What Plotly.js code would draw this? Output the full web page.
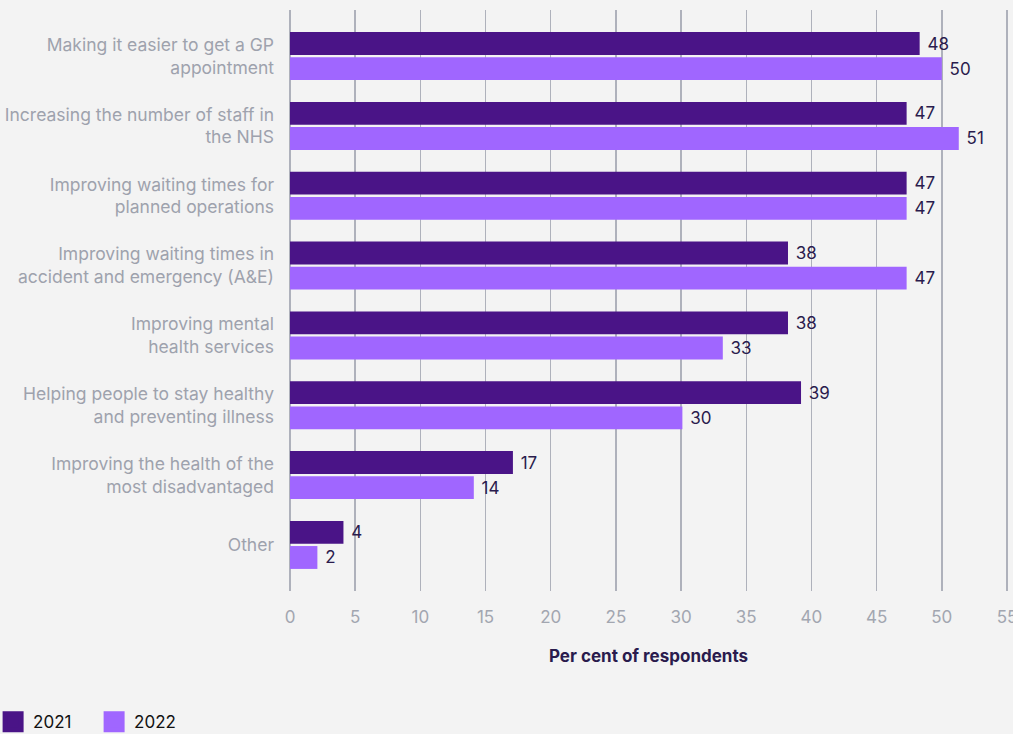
<!DOCTYPE html>
<html>
<head>
<meta charset="utf-8">
<script src="https://cdn.plot.ly/plotly-3.0.1.min.js"></script>
<style>
  html, body { margin: 0; padding: 0; background: #f3f3f3; }
  #chart { width: 1013px; height: 734px; }
</style>
</head>
<body>
<div id="chart"></div>
<script>
const categories = [
  "Making it easier to get a GP<br>appointment",
  "Increasing the number of staff in<br>the NHS",
  "Improving waiting times for<br>planned operations",
  "Improving waiting times in<br>accident and emergency (A&E)",
  "Improving mental<br>health services",
  "Helping people to stay healthy<br>and preventing illness",
  "Improving the health of the<br>most disadvantaged",
  "Other"
];
const values2021 = [48.3, 47.3, 47.3, 38.2, 38.2, 39.2, 17.1, 4.1];
const values2022 = [50.0, 51.3, 47.3, 47.3, 33.2, 30.1, 14.1, 2.1];
const labels2021 = ["48", "47", "47", "38", "38", "39", "17", "4"];
const labels2022 = ["50", "51", "47", "47", "33", "30", "14", "2"];
const xTicks = [0, 5, 10, 15, 20, 25, 30, 35, 40, 45, 50, 55];
const seriesNames = ["2021", "2022"];
const seriesColors = ["#4a1487", "#a066ff"];

const FONT = "Inter, 'Open Sans', sans-serif";

function barTrace(name, vals, labels, color) {
  return {
    type: "bar",
    orientation: "h",
    name: name,
    x: vals,
    y: categories,
    text: labels,
    texttemplate: "\u00a0%{text}",
    textposition: "outside",
    cliponaxis: false,
    textfont: { family: FONT, size: 17, color: "#2a1b4d" },
    marker: { color: color, line: { width: 0 } },
    showlegend: false,
    hoverinfo: "skip"
  };
}

function legendTrace(name, color) {
  return {
    type: "scatter",
    mode: "markers",
    name: name,
    x: [null],
    y: [null],
    marker: { symbol: "square", size: 16, color: color, line: { color: color, width: 5 } },
    showlegend: true,
    hoverinfo: "skip"
  };
}

const data = [
  barTrace(seriesNames[0], values2021, labels2021, seriesColors[0]),
  barTrace(seriesNames[1], values2022, labels2022, seriesColors[1]),
  legendTrace(seriesNames[0], seriesColors[0]),
  legendTrace(seriesNames[1], seriesColors[1])
];

const layout = {
  width: 1013,
  height: 734,
  paper_bgcolor: "#f3f3f3",
  plot_bgcolor: "#f3f3f3",
  font: { family: FONT },
  margin: { l: 286, r: 2, t: 10, b: 143, autoexpand: false },
  barmode: "group",
  bargap: 0.28,
  bargroupgap: 0.09,
  showlegend: true,
  legend: {
    orientation: "h",
    xref: "paper",
    yref: "paper",
    x: -0.404,
    y: -0.195,
    xanchor: "left",
    yanchor: "top",
    font: { family: FONT, size: 17, color: "#111111" },
    itemwidth: 30,
    entrywidth: 56,
    entrywidthmode: "pixels",
    traceorder: "normal",
    bgcolor: "rgba(0,0,0,0)"
  },
  xaxis: {
    range: [-0.3068, 55.3068],
    tickvals: xTicks,
    ticktext: xTicks.map(String),
    showgrid: true,
    gridcolor: "#aeb1bb",
    gridwidth: 1.5,
    zeroline: false,
    showline: false,
    ticks: "",
    ticklabelstandoff: 14,
    ticklabeloverflow: "allow",
    tickfont: { family: FONT, size: 17, color: "#a2a6b0" },
    title: {
      text: "<b>Per cent of respondents</b>",
      font: { family: FONT, size: 17, color: "#2a1b4d" },
      standoff: 24
    },
    fixedrange: true
  },
  yaxis: {
    type: "category",
    range: [7.66, -0.66],
    showgrid: false,
    zeroline: false,
    showline: false,
    ticks: "",
    ticklabelstandoff: 11,
    tickfont: { family: FONT, size: 17.5, color: "#9ea2ad" },
    fixedrange: true
  }
};

Plotly.newPlot("chart", data, layout, { displayModeBar: false, staticPlot: true });
</script>
</body>
</html>
